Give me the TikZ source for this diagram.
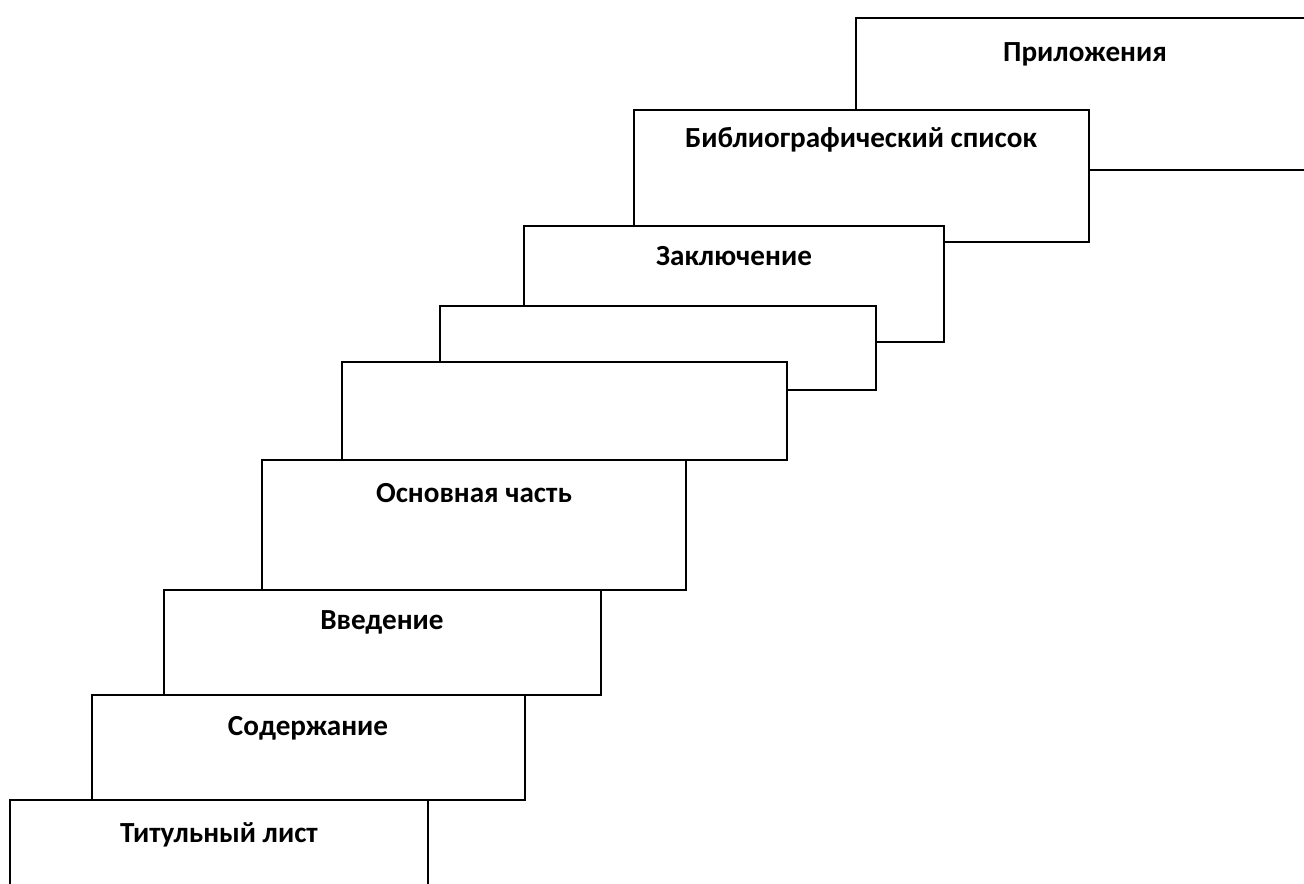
\documentclass[tikz,border=0pt]{standalone}
\usepackage{fontspec}
\setmainfont{Carlito}
\begin{document}
\begin{tikzpicture}[
        x=0.0135cm, y=-0.0135cm,
        stairBox/.style={draw, fill=white, line width=0.8pt},
        stairLabel/.style={anchor=base, font=\fontsize{11.2}{13}\selectfont\bfseries}
    ]
        \clip (0,0) rectangle (1304,883);

        % Top step first, every lower step covers the one above
        \draw[stairBox] (856,18) rectangle (1314,170);
        \node[stairLabel] (pril) at (1085,61) {Приложения};

        \draw[stairBox] (634,110) rectangle (1089,242);
        \node[stairLabel] (bibl) at (861,147) {Библиографический список};

        \draw[stairBox] (524,226) rectangle (944,342);
        \node[stairLabel] (zakl) at (734,265) {Заключение};

        % Empty steps
        \draw[stairBox] (440,306) rectangle (876,390);
        \draw[stairBox] (342,362) rectangle (787,460);

        \draw[stairBox] (262,460) rectangle (686,590);
        \node[stairLabel] (osn) at (474,502) {Основная часть};

        \draw[stairBox] (164,590) rectangle (601,695);
        \node[stairLabel] (vved) at (382,629) {Введение};

        \draw[stairBox] (92,695) rectangle (525,800);
        \node[stairLabel] (sod) at (308,735) {Содержание};

        % Bottom step
        \draw[stairBox] (10,800) rectangle (428,900);
        \node[stairLabel] (titul) at (219,842) {Титульный лист};
    \end{tikzpicture}
\end{document}
